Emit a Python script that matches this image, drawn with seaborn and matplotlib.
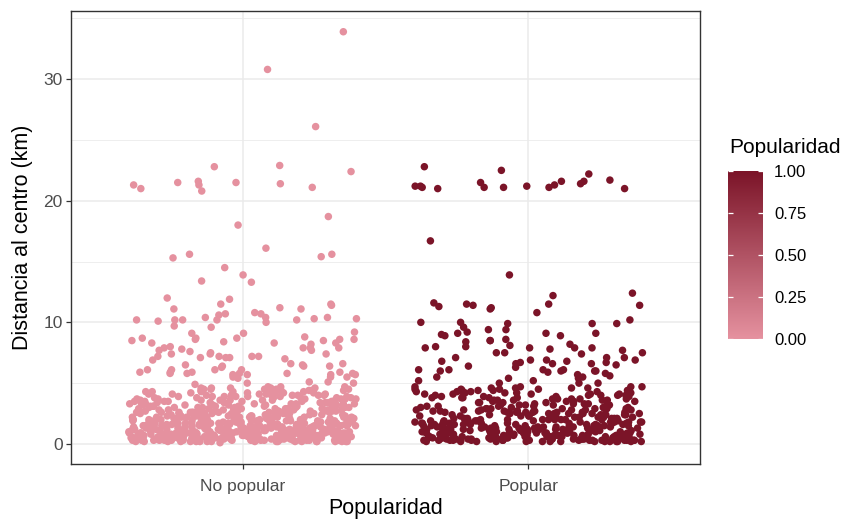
import numpy as np
import pandas as pd
import matplotlib
matplotlib.use("Agg")
import matplotlib.pyplot as plt
from matplotlib.colors import LinearSegmentedColormap, Normalize
from matplotlib.cm import ScalarMappable
from matplotlib.ticker import MultipleLocator
import seaborn as sns

# ---- data -------------------------------------------------------------
categories = ["No popular", "Popular"]
popularity_levels = [0, 1]

# distance to the centre (km), listings not popular
no_popular_far = [33.9, 30.8, 26.1, 22.4, 21.5, 21.5, 21.4, 21.0, 21.3, 22.8,
                  21.1, 21.3, 20.8, 21.6, 22.9, 18.7, 18.0, 15.4, 14.5, 13.9,
                  13.4, 15.3, 15.6, 16.1, 15.6, 13.3, 11.5, 10.2]
no_popular_mid = [11.1, 9.1, 10.1, 10.4, 10.7, 10.3, 11.2, 10.2, 8.6, 8.6,
                  8.3, 7.9, 8.3, 8.0, 7.1, 7.4, 7.1, 7.6, 7.5, 5.8,
                  5.5, 5.7, 6.5, 6.1, 5.8, 5.7, 11.5, 12.0, 10.6, 10.7,
                  10.8, 9.7, 8.7, 7.9, 7.2, 7.2, 6.5, 7.0, 6.3, 8.2,
                  5.7, 5.4, 5.5, 5.7, 10.2, 9.2, 8.8, 7.7, 7.2, 6.1,
                  6.1, 11.1, 10.4, 10.4, 10.2, 11.9, 11.4, 10.2, 9.6, 9.1,
                  10.0, 8.7, 8.6, 8.7, 7.9, 7.8, 7.7, 7.4, 7.4, 7.1,
                  6.6, 6.4, 6.9, 6.4, 5.8, 5.9, 5.9, 5.0, 4.9, 10.3,
                  7.9, 8.5, 8.3, 8.4, 8.5, 7.2, 6.4, 6.6, 6.1, 5.9,
                  5.8, 5.5, 5.8, 5.9, 5.0, 5.1, 5.1]
no_popular_near = [
    0.3, 1.2, 2.5, 0.8, 3.9, 1.7, 0.5, 2.2, 4.4, 1.0, 0.2, 3.1, 1.5, 2.8, 0.6, 4.1, 1.9, 0.4, 2.6, 3.5,
    1.1, 0.7, 2.0, 4.6, 0.3, 1.4, 3.3, 2.4, 0.9, 1.8, 0.1, 2.9, 4.0, 1.3, 0.6, 3.7, 2.1, 1.6, 0.4, 2.7,
    3.2, 0.8, 1.5, 4.3, 0.2, 2.3, 1.0, 3.6, 0.5, 1.9, 2.6, 4.5, 0.7, 1.2, 3.0, 0.3, 2.0, 1.7, 3.8, 0.9,
    1.4, 2.8, 0.4, 3.4, 1.1, 0.6, 2.2, 4.2, 1.6, 0.2, 2.5, 3.1, 0.8, 1.3, 4.7, 0.5, 1.9, 2.7, 0.3, 3.5,
    0.9, 2.1, 1.5, 0.4, 3.9, 1.2, 2.4, 0.7, 3.3, 1.8, 0.2, 2.9, 4.1, 1.0, 0.6, 2.3, 3.6, 1.4, 0.3, 2.0,
    4.4, 1.7, 0.5, 2.6, 1.1, 3.0, 0.8, 1.6, 2.2, 0.4, 3.8, 1.3, 0.9, 2.7, 4.0, 0.2, 1.5, 3.2, 0.6, 2.4,
    1.0, 0.3, 2.8, 1.8, 3.5, 0.7, 4.6, 1.2, 2.1, 0.5, 1.4, 3.4, 0.9, 2.5, 1.7, 0.2, 3.7, 1.1, 0.6, 2.0,
    3.1, 0.4, 1.9, 2.3, 0.8, 4.2, 1.3, 0.3, 2.6, 1.5, 3.9, 0.6, 1.0, 2.9, 0.2, 1.6, 4.5, 0.7, 2.2, 1.2,
    0.5, 2.4, 3.3, 1.4, 0.9, 1.8, 4.3, 0.3, 2.7, 1.1, 0.6, 3.6, 2.0, 1.5, 0.4, 3.0, 1.7, 0.8, 2.5, 4.0,
    1.3, 0.2, 2.1, 3.8, 0.7, 1.6, 2.8, 0.5, 1.0, 4.4, 2.3, 0.9, 1.4, 3.2, 0.3, 2.6, 1.9, 0.6, 3.5, 1.2,
    0.4, 1.5, 2.9, 0.8, 4.1, 1.1, 0.3, 2.2, 3.4, 1.7, 0.6, 2.5, 1.3, 0.2, 3.7, 1.9, 0.9, 2.0, 4.6, 0.5,
    2.7, 1.0, 0.4, 3.1, 1.6, 2.4, 0.7, 1.2, 3.9, 0.3, 1.8, 2.8, 0.5, 1.4, 4.2, 0.9, 2.1, 3.3, 0.2, 1.5,
    0.6, 2.3, 1.1, 3.6, 0.8, 1.7, 4.5, 0.4, 2.6, 1.3, 0.3, 3.0, 1.9, 0.7, 2.2, 4.0, 1.0, 0.5, 2.9, 1.6,
    3.4, 0.2, 1.4, 2.0, 0.9, 3.8, 1.2, 0.6, 2.5, 4.3, 1.8, 0.3, 1.1, 2.7, 0.4, 3.2, 1.5, 0.8, 2.1, 4.7,
    1.3, 0.5, 2.4, 1.7, 3.5, 0.7, 1.0, 2.8, 0.2, 4.1, 1.6, 0.9, 2.2, 3.1, 0.4, 1.4, 2.6, 0.6, 3.9, 1.2,
    0.3, 2.0, 1.5, 4.4, 0.8, 2.9, 1.1, 0.5, 3.3, 1.8, 0.2, 2.3, 3.7, 1.0, 0.7, 2.5, 1.3, 4.2, 0.4, 1.9,
    2.1, 0.6, 3.0, 1.4, 0.3, 2.7, 1.7, 4.6, 0.9, 1.2, 3.6, 0.5, 2.4, 1.6, 0.2, 3.2, 1.0, 2.0, 0.8, 4.0,
    1.5, 3.4, 0.4, 2.2, 1.1, 0.7, 3.8, 1.9, 0.3, 2.6, 4.3, 1.3, 0.6, 2.9, 1.7, 0.2, 3.1, 1.0, 2.4, 0.5,
    0.9, 1.6, 2.8, 0.4, 3.5, 1.2, 2.1, 0.7, 4.5, 1.4, 0.3, 2.5, 1.8, 3.9, 0.6, 1.0, 2.3, 0.2, 3.3, 1.5,
    2.0, 0.5, 1.3, 4.1, 0.8, 2.7, 1.7, 0.3, 3.0, 1.1, 2.4, 0.6, 3.7, 1.9, 0.4, 2.2, 4.4, 1.0, 0.7, 2.6,
    0.2, 1.0, 2.2, 0.6, 3.0, 1.5, 0.4, 2.6, 1.2, 0.8, 3.4, 1.9, 0.3, 2.4, 1.1, 4.0, 0.7, 1.6, 2.9, 0.5,
    1.3, 0.9, 3.6, 0.3, 2.1, 1.7, 0.6, 4.3, 1.0, 2.7, 0.4, 1.4, 3.2, 0.8, 2.0, 1.2, 0.2, 3.8, 1.8, 0.5,
    2.5, 0.7, 1.1, 4.5, 0.3, 1.6, 2.3, 0.9, 3.3, 1.4, 0.6, 2.8, 1.0, 0.4, 3.9, 1.7, 2.2, 0.8, 1.3, 4.2,
    0.5, 1.9, 3.0, 0.2, 2.6, 1.1, 0.7, 3.5, 1.5, 2.0, 0.4, 4.6, 1.2, 0.9, 2.4, 0.3, 3.1, 1.8, 0.6, 2.9,
    1.4, 0.8, 4.1, 2.2, 0.5, 1.0, 3.7, 0.3, 1.7, 2.5, 0.7, 1.3, 4.4, 0.2, 2.1, 3.4, 1.6, 0.9, 2.7, 1.1,
    0.6, 3.2, 1.9, 0.4, 2.3, 4.7, 1.2, 0.8, 3.0, 1.5, 0.3, 2.6, 1.0, 4.0, 0.5, 1.8, 2.8, 0.7, 3.6, 1.4,
]

# distance to the centre (km), popular listings
popular_far = [21.4, 21.3, 21.2, 21.1, 21.2, 21.0, 22.5, 22.8, 21.0, 21.1,
               21.1, 22.2, 21.6, 21.2, 21.6, 21.1, 21.5, 21.7, 16.7, 13.9,
               12.4, 11.6, 12.2, 11.4, 11.5, 11.2]
popular_mid = [11.1, 11.4, 11.3, 11.5, 10.8, 10.2, 10.0, 10.0, 9.9, 9.4,
               9.9, 9.0, 8.4, 8.0, 8.2, 8.9, 9.1, 9.4, 8.6, 7.9,
               7.5, 7.1, 9.9, 7.9, 7.5, 6.8, 6.7, 5.4, 6.5, 7.9,
               7.4, 7.7, 9.1, 8.5, 7.9, 8.0, 8.1, 8.9, 9.6, 9.1,
               8.5, 9.2, 7.5, 7.8, 6.7, 6.6, 6.6, 6.0, 5.9, 6.0,
               5.2, 5.0, 6.8, 6.1, 5.6, 5.5, 6.3, 5.8, 5.7, 5.2,
               6.6, 7.1, 6.1, 7.1, 6.9, 6.9, 6.9, 6.0, 5.5, 5.0,
               6.0, 6.4, 6.1, 5.0, 4.7, 5.4, 6.1]
popular_near = [
    0.4, 1.8, 3.2, 0.9, 2.5, 0.2, 4.1, 1.3, 0.6, 2.9, 1.6, 3.7, 0.3, 2.1, 1.0, 4.5, 0.7, 2.6, 1.4, 0.5,
    3.4, 1.1, 0.3, 2.3, 4.0, 0.8, 1.7, 2.8, 0.5, 3.6, 1.2, 0.2, 2.0, 4.3, 0.9, 1.5, 3.0, 0.4, 2.7, 1.9,
    0.6, 2.4, 1.3, 3.8, 0.3, 1.9, 4.6, 0.7, 2.2, 1.0, 3.3, 0.4, 1.6, 2.9, 0.2, 4.2, 1.4, 0.8, 2.5, 3.5,
    1.2, 0.5, 2.7, 4.4, 1.7, 0.3, 3.1, 2.0, 0.9, 1.5, 3.9, 0.6, 2.3, 1.1, 0.2, 2.8, 4.1, 1.8, 0.4, 3.2,
    2.1, 0.7, 1.4, 3.6, 0.3, 2.6, 1.0, 4.7, 0.5, 1.8, 3.0, 0.8, 2.4, 1.3, 0.2, 3.7, 1.6, 0.6, 2.9, 4.3,
    0.9, 3.3, 1.5, 0.4, 2.2, 4.0, 1.1, 0.7, 2.7, 1.9, 0.3, 3.5, 1.2, 2.5, 0.5, 4.4, 1.7, 0.2, 3.1, 2.0,
    1.4, 0.6, 2.8, 3.9, 0.8, 1.6, 0.3, 2.3, 4.2, 1.0, 0.5, 3.4, 1.8, 2.6, 0.2, 1.3, 3.8, 0.7, 2.1, 4.6,
    0.4, 2.5, 1.1, 3.2, 0.6, 1.7, 4.5, 0.3, 2.9, 1.4, 0.9, 3.6, 2.2, 0.5, 1.9, 4.0, 1.2, 0.2, 2.7, 3.0,
    1.5, 0.7, 3.7, 2.0, 0.3, 1.3, 2.6, 4.3, 0.8, 1.8, 0.4, 3.3, 2.4, 1.0, 0.6, 4.1, 1.6, 2.8, 0.2, 3.5,
    2.3, 0.5, 1.2, 3.9, 0.9, 2.1, 1.7, 0.3, 4.4, 1.4, 2.7, 0.6, 3.1, 1.0, 0.4, 2.5, 4.7, 1.9, 0.8, 1.3,
    0.2, 3.4, 1.6, 0.7, 2.9, 1.1, 4.2, 0.5, 2.2, 1.8, 0.3, 3.8, 1.4, 2.6, 0.9, 0.4, 3.0, 1.2, 4.0, 2.0,
    1.7, 0.6, 2.4, 0.3, 3.6, 1.0, 1.9, 4.5, 0.8, 2.8, 1.5, 0.2, 3.2, 2.1, 0.5, 1.3, 3.9, 0.7, 2.5, 4.1,
    0.9, 2.6, 1.4, 0.4, 3.1, 1.8, 0.6, 2.3, 4.6, 1.1, 0.3, 2.9, 1.6, 3.7, 0.2, 1.2, 2.0, 0.8, 4.3, 1.5,
    0.3, 1.5, 2.9, 0.7, 3.8, 1.1, 0.5, 2.4, 4.4, 1.7, 0.2, 3.1, 1.3, 0.9, 2.2, 4.0, 0.6, 1.9, 3.5, 1.0,
    2.6, 0.4, 1.6, 4.2, 0.8, 2.0, 3.3, 0.3, 1.2, 2.8, 0.6, 4.6, 1.8, 0.5, 2.5, 1.4, 3.7, 0.2, 2.1, 1.0,
    1.3, 3.0, 0.7, 2.3, 4.5, 0.4, 1.7, 2.7, 0.9, 3.9, 1.1, 0.3, 2.0, 3.4, 1.5, 0.6, 4.1, 2.6, 0.8, 1.2,
    0.5, 2.2, 3.6, 1.4, 0.2, 2.9, 1.8, 4.3, 0.7, 1.0, 3.2, 0.4, 2.4, 1.6, 0.9, 4.7, 1.3, 0.3, 2.7, 3.8,
]

colorbar_ticks = [0.0, 0.25, 0.5, 0.75, 1.0]
colorbar_labels = ["0.00", "0.25", "0.50", "0.75", "1.00"]

# ---- tidy table ---------------------------------------------------------
no_pop = no_popular_near + no_popular_mid + no_popular_far
pop = popular_near + popular_mid + popular_far
df = pd.DataFrame({
    "grupo": [categories[0]] * len(no_pop) + [categories[1]] * len(pop),
    "distancia": no_pop + pop,
    "popularidad": [popularity_levels[0]] * len(no_pop) + [popularity_levels[1]] * len(pop),
})

LOW, HIGH = "#E5919F", "#7B1428"
cmap = LinearSegmentedColormap.from_list("popularidad", [LOW, HIGH])

# ---- figure -------------------------------------------------------------
sns.set_style("white")
plt.rcParams["font.family"] = ["Liberation Sans", "DejaVu Sans"]

fig = plt.figure(figsize=(8.47, 5.2), dpi=100)
ax = fig.add_axes([0.0838, 0.1077, 0.7426, 0.871])

np.random.seed(11)
sns.stripplot(data=df, x="grupo", y="distancia", hue="popularidad",
              order=categories,
              palette={popularity_levels[0]: LOW, popularity_levels[1]: HIGH},
              jitter=0.4, size=5.4, linewidth=0, legend=False, ax=ax)

ax.set_xlim(-0.6, 1.6)
ax.set_ylim(-1.65, 35.6)
ax.yaxis.set_major_locator(MultipleLocator(10))
ax.yaxis.set_minor_locator(MultipleLocator(5))
ax.set_axisbelow(True)
ax.grid(which="major", axis="both", color="#EBEBEB", linewidth=1.1)
ax.grid(which="minor", axis="y", color="#EBEBEB", linewidth=0.6)

for sp in ax.spines.values():
    sp.set_visible(True)
    sp.set_color("#333333")
    sp.set_linewidth(1.0)

ax.tick_params(which="major", length=3.5, width=0.9, color="#333333",
               labelcolor="#4D4D4D", labelsize=12.5, bottom=True, left=True)
ax.tick_params(axis="x", which="major", pad=7)
ax.tick_params(axis="y", which="major", pad=2.5)
ax.tick_params(which="minor", length=0)

ax.set_xlabel("Popularidad", fontsize=15.5, color="black", labelpad=3)
ax.set_ylabel("Distancia al centro (km)", fontsize=15.5, color="black", labelpad=7.5)

# ---- colour bar legend --------------------------------------------------
cax = fig.add_axes([0.8595, 0.348, 0.0413, 0.323])
cb = fig.colorbar(ScalarMappable(norm=Normalize(0, 1), cmap=cmap), cax=cax,
                  ticks=colorbar_ticks)
cb.outline.set_visible(False)
cax.set_axisbelow(False)
cb.ax.set_yticklabels(colorbar_labels)
cb.ax.tick_params(direction="in", color="white", length=3.8, width=0.9,
                  left=True, right=True, labelsize=12, labelcolor="black", pad=8)
fig.text(0.8605, 0.706, "Popularidad", fontsize=15, color="black",
         ha="left", va="baseline")

fig.savefig("out.png", dpi=100)
